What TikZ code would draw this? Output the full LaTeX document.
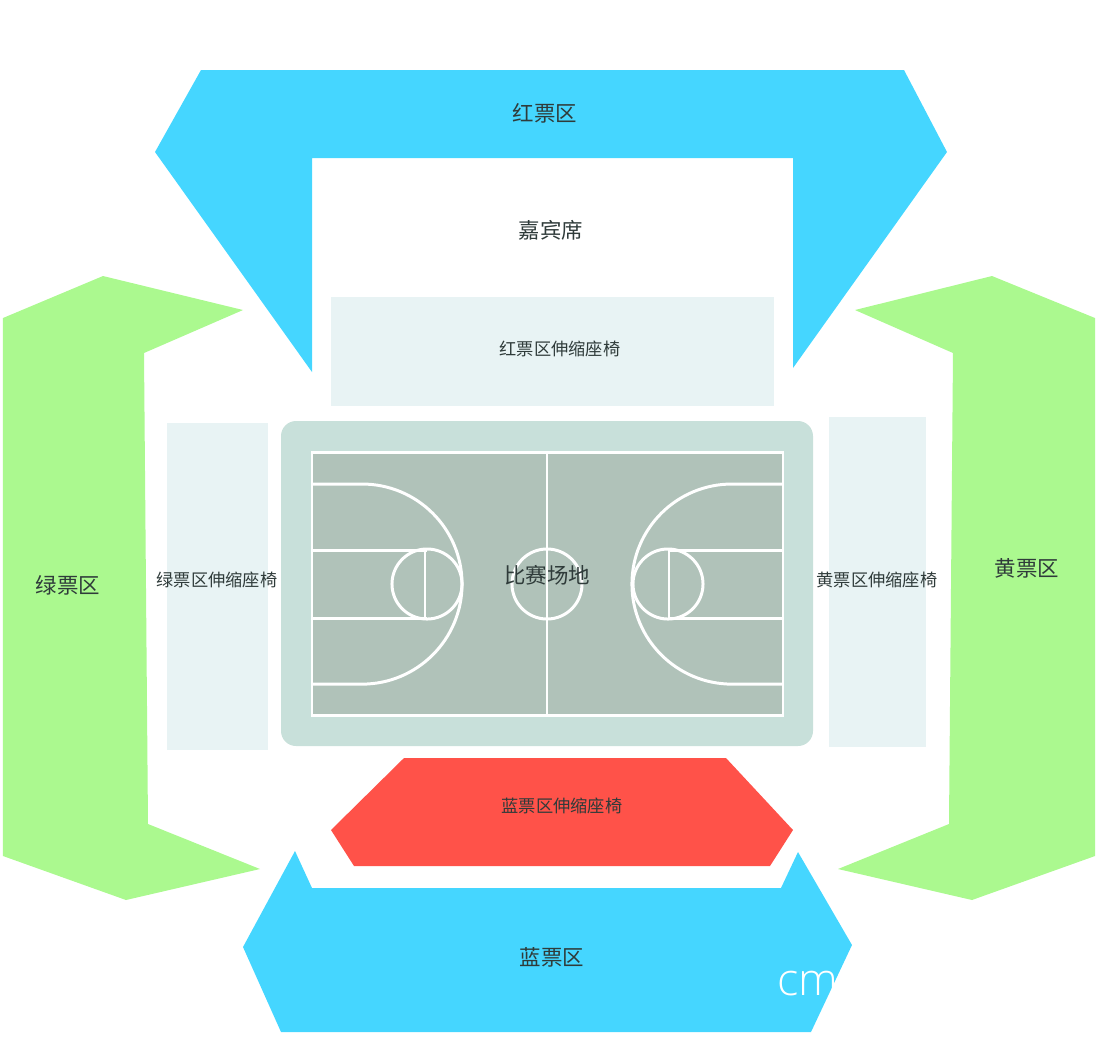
\documentclass[tikz,border=0pt]{standalone}
\usepackage{fontspec}
\usepackage{xcolor}
\usepackage{tikz}
\setmainfont{Noto Sans CJK SC}
\newfontfamily\markfont{Open Sans Light}
\definecolor{skyzone}{HTML}{45D6FF}
\definecolor{greenzone}{HTML}{ABF98F}
\definecolor{redzone}{HTML}{FF5249}
\definecolor{benchzone}{HTML}{E8F3F4}
\definecolor{courtedge}{HTML}{C8E0DA}
\definecolor{courtfloor}{HTML}{B0C2B9}
\definecolor{labeltext}{HTML}{2F3B3A}
\tikzset{
    zone/.style={draw=none, fill=#1},
    biglabel/.style={text=labeltext, font=\fontsize{6.1pt}{7pt}\selectfont, inner sep=0pt},
    smalllabel/.style={text=labeltext, font=\fontsize{4.9pt}{6pt}\selectfont, inner sep=0pt},
    courtline/.style={draw=white, line width=0.85pt}
}
\begin{document}
\begin{tikzpicture}[x=0.01cm, y=-0.01cm]
    \useasboundingbox (0,0) rectangle (1102,1050);

    % Ticket zones
    \fill [zone=skyzone] (201,70) -- (904,70) -- (947,152) -- (793,368) -- (793,158) -- (312,158) -- (312,372) -- (155,152) -- cycle;
    \fill [zone=greenzone] (3,318) -- (103,276) -- (243,310) -- (144,353) -- (148,824) -- (260,869) -- (126,900) -- (3,856) -- cycle;
    \fill [zone=greenzone] (992,276) -- (1095,318) -- (1095,856) -- (972,900) -- (838,869) -- (949,824) -- (953,353) -- (855,310) -- cycle;
    \fill [zone=skyzone] (295,851) -- (312,888) -- (781,888) -- (798,852) -- (852,945) -- (811,1032) -- (281,1032) -- (243,947) -- cycle;

    % Retractable seats
    \fill [zone=benchzone] (331,297) rectangle (774,406);
    \fill [zone=benchzone] (167,423) rectangle (268,750);
    \fill [zone=benchzone] (829,417) rectangle (926,747);
    \fill [zone=redzone] (404,758) -- (726,758) -- (793,830) -- (770,866) -- (354,866) -- (331,830) -- cycle;

    % Court
    \fill [zone=courtedge, rounded corners=0.15cm] (281,421) rectangle (813,746);
    \filldraw [courtline, fill=courtfloor] (312,452) rectangle (783,715);
    \draw [courtline] (547,452) -- (547,715);
    \draw [courtline] (547,584) circle [radius=0.35cm];

    % Left half
    \draw [courtline] (312,484) -- (362,484) arc [start angle=90, end angle=-90, radius=1cm] -- (312,684);
    \draw [courtline] (312,550) -- (427,550);
    \draw [courtline] (312,618) -- (427,618);
    \draw [courtline] (427,584) circle [radius=0.35cm];
    \draw [courtline] (425,550) -- (425,618);

    % Right half
    \draw [courtline] (783,484) -- (732,484) arc [start angle=90, end angle=270, radius=1cm] -- (783,684);
    \draw [courtline] (783,550) -- (668,550);
    \draw [courtline] (783,618) -- (668,618);
    \draw [courtline] (668,584) circle [radius=0.35cm];
    \draw [courtline] (669,550) -- (669,618);

    % Labels
    \node [biglabel] (red_tickets) at (545,113) {红票区};
    \node [biglabel] (guest_seats) at (551,230) {嘉宾席};
    \node [smalllabel] (red_bench) at (560,349) {红票区伸缩座椅};
    \node [biglabel] (green_tickets) at (68,585) {绿票区};
    \node [smalllabel] (green_bench) at (217,580) {绿票区伸缩座椅};
    \node [biglabel] (court_label) at (547,575) {比赛场地};
    \node [smalllabel] (yellow_bench) at (877,580) {黄票区伸缩座椅};
    \node [biglabel] (yellow_tickets) at (1027,568) {黄票区};
    \node [smalllabel] (blue_bench) at (562,806) {蓝票区伸缩座椅};
    \node [biglabel] (blue_tickets) at (552,957) {蓝票区};
    \node [text=white, font=\markfont\fontsize{12.8pt}{14pt}\selectfont, inner sep=0pt] (watermark) at (808,984) {cm};
\end{tikzpicture}
\end{document}
